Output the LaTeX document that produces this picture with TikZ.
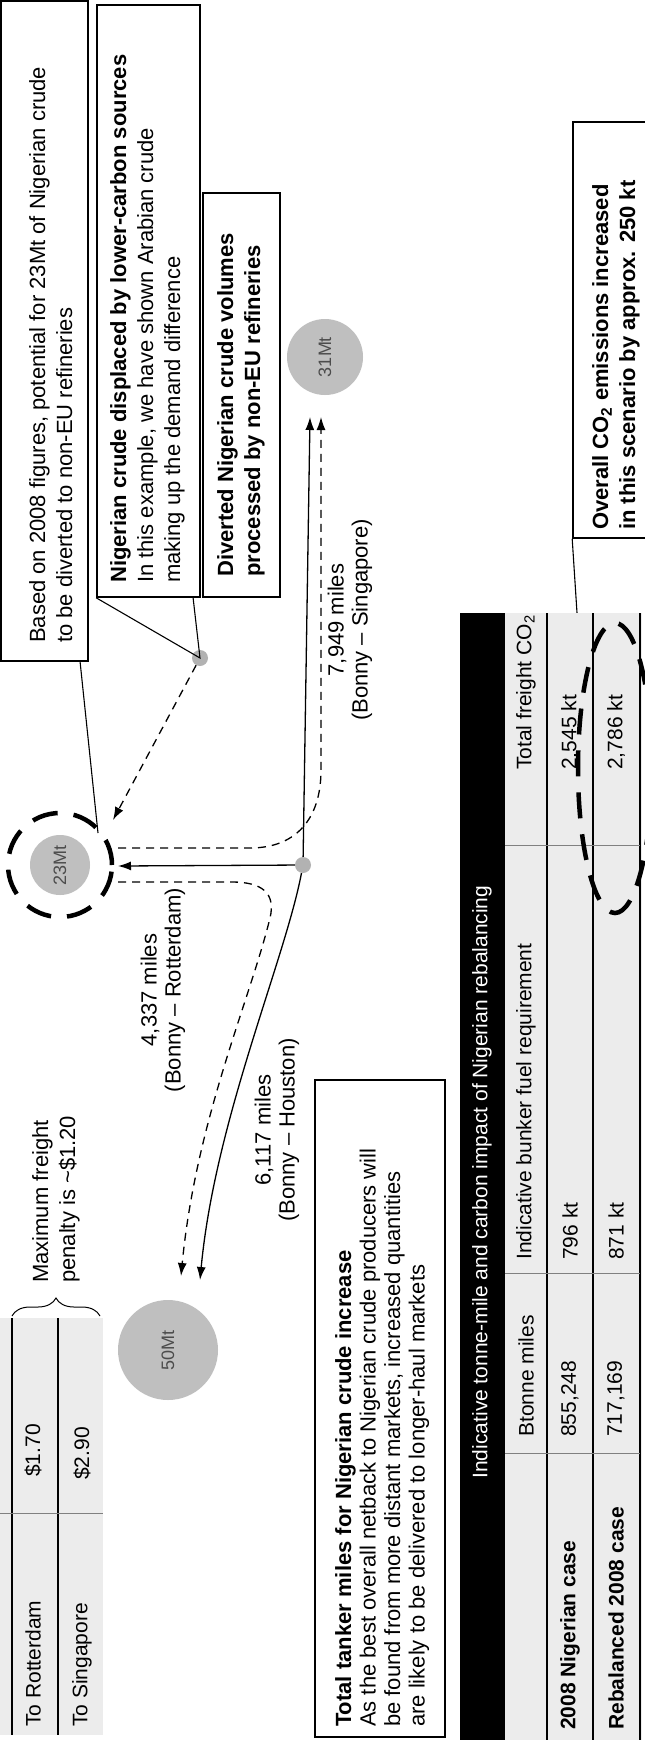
\documentclass[tikz,border=0pt]{standalone}
\usepackage{fontspec}
\setmainfont{Liberation Sans}
\usetikzlibrary{arrows.meta,decorations.pathreplacing}
\begin{document}
\begin{tikzpicture}[x=1pt,y=-1pt,
  lbl/.style={rotate=90,inner sep=0pt,align=left,font=\fontsize{22}{27}\selectfont},
  clbl/.style={rotate=90,inner sep=0pt,align=center,font=\fontsize{22}{24}\selectfont},
  cell/.style={rotate=90,inner sep=0pt,anchor=west,font=\fontsize{21}{24}\selectfont},
  box/.style={draw=black,line width=1.6pt,inner sep=0pt},
  bubble/.style={circle,fill=gray!50,draw=none,inner sep=0pt,text=black!70,font=\fontsize{18}{20}\selectfont},
  dot/.style={circle,fill=gray!60,draw=none,inner sep=0pt,minimum size=16pt},
  conn/.style={line width=1.3pt,-{Latex[length=13pt,width=9pt]}},
  dconn/.style={line width=1.3pt,dash pattern=on 8pt off 6pt,-{Latex[length=13pt,width=9pt]}},
  leader/.style={line width=1.1pt},
  ring/.style={line width=4.5pt,dash pattern=on 26pt off 16pt},
  grid/.style={line width=1.2pt}]
\useasboundingbox (0,0) rectangle (645,1743);
\fill[white] (0,0) rectangle (645,1743);

% ---------- boxes ----------
\node[box,minimum width=87pt,minimum height=660pt] (b1) at (44.5,331) {};
\node[box,minimum width=103pt,minimum height=592pt] (b2) at (148.5,301) {};
\node[box,minimum width=77pt,minimum height=404pt] (b3) at (241.5,395) {};
\node[box,minimum width=130pt,minimum height=657pt] (b4) at (380,1408.5) {};
\node[box,minimum width=80pt,minimum height=416pt] (b5) at (613,330) {};

\node[lbl,anchor=north west] (t1) at (29,643) {Based on 2008 figures, potential for 23Mt of Nigerian crude\\to be diverted to non-EU refineries};
\node[lbl,anchor=north west] (t2) at (110,583) {\textbf{Nigerian crude displaced by lower-carbon sources}\\In this example, we have shown Arabian crude\\making up the demand difference};
\node[lbl,anchor=north west] (t3) at (217,577) {\textbf{Diverted Nigerian crude volumes}\\\textbf{processed by non-EU refineries}};
\node[lbl,anchor=north west,font=\fontsize{22}{24.5}\selectfont] (t4) at (335,1727) {\textbf{Total tanker miles for Nigerian crude increase}\\As the best overall netback to Nigerian crude producers will\\be found from more distant markets, increased quantities\\are likely to be delivered to longer-haul markets};
\node[lbl,anchor=north west] (t5) at (592,530) {\textbf{Overall CO\textsubscript{2} emissions increased}\\\textbf{in this scenario by approx. 250 kt}};

% ---------- bubbles ----------
\node[bubble,minimum size=60pt] (m23) at (60,865) {\rotatebox{90}{23Mt}};
\draw[ring] (60,865) circle[radius=52pt];
\node[bubble,minimum size=76pt] (m31) at (325,357) {\rotatebox{90}{31Mt}};
\node[bubble,minimum size=100pt] (m50) at (168,1350) {\rotatebox{90}{50Mt}};
\node[dot] (bonny) at (303,865) {};
\node[dot] (d2) at (200,658) {};

% ---------- distance labels ----------
\node[clbl] (l1) at (163,990) {4,337 miles\\(Bonny – Rotterdam)};
\node[clbl] (l2) at (277,1130) {6,117 miles\\(Bonny – Houston)};
\node[clbl] (l3) at (350,620) {7,949 miles\\(Bonny – Singapore)};
\node[lbl,anchor=north west] (l4) at (32,1283) {Maximum freight\\penalty is \textasciitilde\$1.20};

% ---------- connectors ----------
\coordinate (e31s) at (310,417);
\coordinate (e31d) at (321,417);
\coordinate (e23) at (118,866);
\coordinate (r23a) at (118,848);
\coordinate (r23b) at (118,882);
\coordinate (e50s) at (200,1280);
\coordinate (e50d) at (181,1276);
\coordinate (e23b) at (113,820);
\coordinate (r23c) at (98,833);
\coordinate (b1p) at (80,661);
\coordinate (b2p) at (193,597);
\coordinate (ul1) at (582,690);
\coordinate (ul2) at (582,765);

\draw[conn] (bonny) -- (e31s);
\draw[conn] (bonny) -- (e23);
\draw[conn] (bonny) .. controls (285,960) and (215,1120) .. (e50s);
\draw[dconn] (r23a) -- (250,848) .. controls (295,848) and (321,820) .. (321,770) -- (e31d);
\draw[dconn] (r23b) -- (232,882) .. controls (262,882) and (276,893) .. (270,918) .. controls (250,1000) and (196,1120) .. (e50d);
\draw[dconn] (d2) -- (e23b);
\draw[leader] (b1p) -- (r23c);
\draw[leader] (b2.south west) -- (d2.center) -- (b2p);
\draw[leader] (b5.south west) -- (ul1) -- (ul2);

% ---------- small table ----------
\fill[gray!15] (0,1318) rectangle (103,1735);
\draw[grid] (12,1318) -- (12,1735);
\draw[grid] (58,1318) -- (58,1735);
\draw[line width=0.8pt,gray] (0,1513) -- (103,1513);
\node[cell] (s1) at (33,1727) {To Rotterdam};
\node[cell] (s2) at (33,1477) {\$1.70};
\node[cell] (s3) at (82,1727) {To Singapore};
\node[cell] (s4) at (82,1480) {\$2.90};
\draw[decorate,decoration={brace,amplitude=18pt},line width=1pt] (12,1316) -- (100,1316);

% ---------- big table ----------
\fill[black] (460,613) rectangle (505,1740);
\node[cell,anchor=center,text=white] (th) at (482,1182) {Indicative tonne-mile and carbon impact of Nigerian rebalancing};
\fill[gray!15] (505,613) rectangle (642,1740);
\draw[grid] (547,613) -- (547,1740);
\draw[grid] (593,613) -- (593,1740);
\draw[grid] (640,613) -- (640,1740);
\draw[line width=0.8pt,gray] (505,1453) -- (640,1453);
\draw[line width=0.8pt,gray] (505,1273) -- (640,1273);
\draw[line width=0.8pt,gray] (505,845) -- (640,845);
\node[cell] (h2) at (526,1437) {Btonne miles};
\node[cell] (h3) at (526,1260) {Indicative bunker fuel requirement};
\node[cell] (h4) at (526,770) {Total freight CO\textsubscript{2}};
\node[cell,font=\fontsize{21}{24}\selectfont\bfseries] (r1) at (570,1730) {2008 Nigerian case};
\node[cell] (r12) at (570,1437) {855,248};
\node[cell] (r13) at (570,1260) {796 kt};
\node[cell] (r14) at (570,770) {2,545 kt};
\node[cell,font=\fontsize{21}{24}\selectfont\bfseries] (r2) at (616,1730) {Rebalanced 2008 case};
\node[cell] (r22) at (616,1437) {717,169};
\node[cell] (r23) at (616,1260) {871 kt};
\node[cell] (r24) at (616,770) {2,786 kt};
\draw[ring] (615,768) ellipse[x radius=37pt,y radius=145pt];
\end{tikzpicture}
\end{document}
